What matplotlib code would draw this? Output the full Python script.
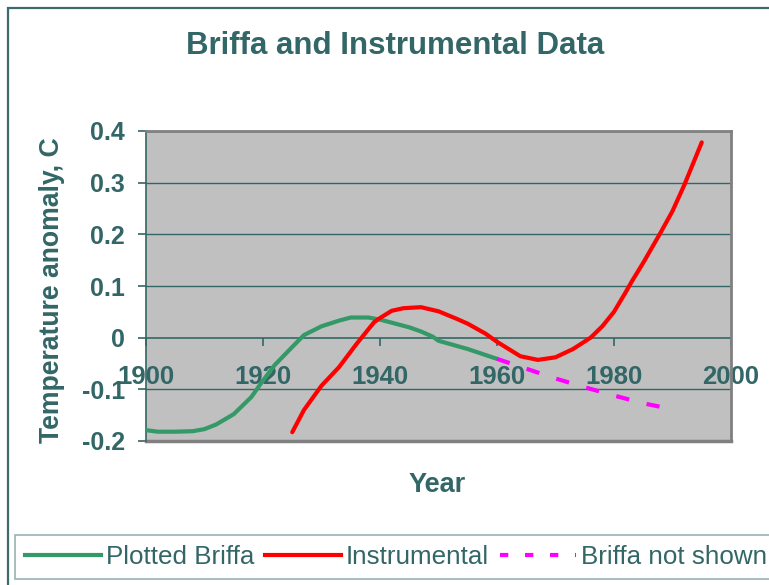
import matplotlib
matplotlib.use("Agg")
import matplotlib.pyplot as plt
from matplotlib.lines import Line2D
from matplotlib.patches import Rectangle

# ---- data ----
briffa_years = [1900, 1902, 1905, 1908, 1910, 1912, 1915, 1918, 1920, 1922, 1925,
                1927, 1930, 1933, 1935, 1938, 1940, 1943, 1945, 1947, 1949, 1950,
                1955, 1960]
briffa_vals = [-0.179, -0.182, -0.182, -0.181, -0.177, -0.168, -0.148, -0.115,
               -0.083, -0.053, -0.018, 0.005, 0.022, 0.033, 0.039, 0.039, 0.035,
               0.026, 0.020, 0.012, 0.002, -0.006, -0.022, -0.041]

instr_years = [1925, 1927, 1930, 1933, 1936, 1939, 1940, 1942, 1944, 1947, 1950,
               1953, 1955, 1958, 1960, 1964, 1967, 1970, 1973, 1976, 1978, 1980,
               1982, 1983, 1985, 1988, 1990, 1992, 1995]
instr_vals = [-0.183, -0.140, -0.093, -0.057, -0.012, 0.030, 0.038, 0.052, 0.057,
              0.059, 0.051, 0.037, 0.027, 0.008, -0.008, -0.036, -0.043, -0.038,
              -0.022, 0.000, 0.022, 0.050, 0.088, 0.108, 0.145, 0.204, 0.245,
              0.295, 0.378]

hidden_years = [1960, 1965, 1970, 1975, 1980, 1985, 1988, 1990]
hidden_vals = [-0.041, -0.060, -0.079, -0.096, -0.112, -0.127, -0.134, -0.136]

x_ticks = [1900, 1920, 1940, 1960, 1980, 2000]
y_ticks = [-0.2, -0.1, 0, 0.1, 0.2, 0.3, 0.4]
y_tick_labels = ["-0.2", "-0.1", "0", "0.1", "0.2", "0.3", "0.4"]

title = "Briffa and Instrumental Data"
series_names = ["Plotted Briffa", "Instrumental", "Briffa not shown"]

# ---- style ----
TEAL = "#336666"
GREEN = "#339966"
RED = "#FF0000"
MAGENTA = "#FF00FF"
plt.rcParams["font.family"] = ["Liberation Sans", "DejaVu Sans"]

W, H = 769, 585
fig = plt.figure(figsize=(W / 100, H / 100), dpi=100)
fig.patch.set_facecolor("white")

# outer chart border (left/top visible, right/bottom cropped)
fig.patches.append(Rectangle((8 / W, -0.1), 1.2, 1 - 8 / H + 0.1,
                             transform=fig.transFigure, fill=False,
                             edgecolor="#3D6B6B", linewidth=1.6))

left, right, top, bottom = 146, 731, 131, 441
ax = fig.add_axes([left / W, 1 - bottom / H, (right - left) / W, (bottom - top) / H])
ax.set_facecolor("#C0C0C0")
ax.set_xlim(1900, 2000)
ax.set_ylim(-0.2, 0.4)

# grid lines
for yv in [0.1, 0.2, 0.3, 0.4, -0.1]:
    ax.axhline(yv, color=TEAL, linewidth=1.0, zorder=1)

ax.plot(briffa_years, briffa_vals, color=GREEN, linewidth=3.0, zorder=3,
        solid_joinstyle="round", solid_capstyle="round")
ax.plot(instr_years, instr_vals, color=RED, linewidth=3.0, zorder=3,
        solid_joinstyle="round", solid_capstyle="round")
ax.plot(hidden_years, hidden_vals, color=MAGENTA, linewidth=3.0, zorder=3,
        linestyle=(0, (3.2, 4.3)), dash_capstyle="butt")

# spines
for s in ["top", "right"]:
    ax.spines[s].set_color("#808080")
    ax.spines[s].set_linewidth(2)
ax.spines["left"].set_color(TEAL)
ax.spines["left"].set_linewidth(1.2)
ax.spines["bottom"].set_position(("data", 0))
ax.spines["bottom"].set_color(TEAL)
ax.spines["bottom"].set_linewidth(1.2)
ax.spines["bottom"].set_zorder(2)
# lower border of plot area
ax.axhline(-0.2, color="#808080", linewidth=2.5, zorder=2, clip_on=False)

ax.set_xticks(x_ticks)
ax.set_xticklabels([str(v) for v in x_ticks])
ax.set_yticks(y_ticks)
ax.set_yticklabels(y_tick_labels)
ax.tick_params(axis="x", direction="out", length=6, width=1.2, color=TEAL,
               pad=14, labelsize=18.5, labelcolor=TEAL)
ax.tick_params(axis="y", direction="out", length=6, width=1.2, color=TEAL,
               pad=9, labelsize=18, labelcolor=TEAL)
for lab in ax.get_xticklabels() + ax.get_yticklabels():
    lab.set_fontweight("bold")

ax.set_ylabel("Temperature anomaly, C", fontsize=19.2, fontweight="bold", color=TEAL)
ax.yaxis.set_label_coords((52 - left) / (right - left), (bottom - 290) / (bottom - top))
ax.yaxis.label.set_va("center")
ax.set_xlabel("Year", fontsize=19.5, fontweight="bold", color=TEAL)
ax.xaxis.set_label_coords((437 - left) / (right - left), (bottom - 485) / (bottom - top))
ax.xaxis.label.set_va("center")

fig.text(395 / W, 1 - 46 / H, title, fontsize=22.5, fontweight="bold", color=TEAL,
         ha="center", va="center")

handles = [
    Line2D([], [], color=GREEN, linewidth=3.0),
    Line2D([], [], color=RED, linewidth=3.0),
    Line2D([], [], color=MAGENTA, linewidth=3.0, linestyle=(0, (2, 4)), dash_capstyle="butt"),
]
leg = fig.legend(handles, series_names, loc="lower left",
                 bbox_to_anchor=(15 / W, 1 - 579 / H), ncol=3, fontsize=18.7,
                 frameon=True, fancybox=False, handlelength=2.92, handletextpad=0.19,
                 columnspacing=0.42, borderpad=0.38, borderaxespad=0)
leg.get_frame().set_edgecolor("#7FA0A0")
leg.get_frame().set_linewidth(1.2)
for t in leg.get_texts():
    t.set_color(TEAL)

fig.savefig("out.png", dpi=100)
